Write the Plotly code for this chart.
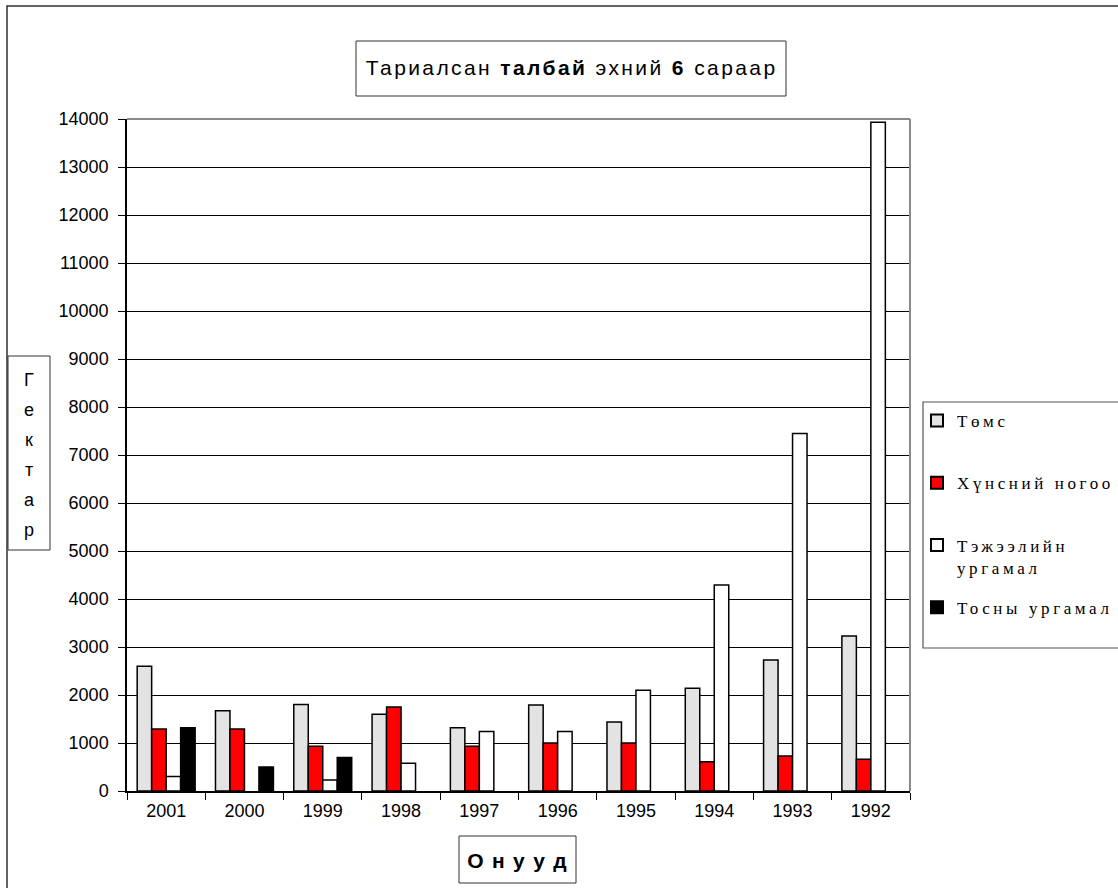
import plotly.graph_objects as go

# ---- data ----
years = ["2001", "2000", "1999", "1998", "1997", "1996", "1995", "1994", "1993", "1992"]
potato = [2600, 1670, 1800, 1600, 1320, 1790, 1440, 2140, 2730, 3230]
vegetables = [1290, 1290, 930, 1750, 930, 1000, 1000, 610, 730, 660]
fodder = [300, None, 230, 580, 1240, 1240, 2100, 4290, 7450, 13930]
oilseed = [1320, 500, 700, None, None, None, None, None, None, None]

series_names = ["Төмс", "Хүнсний ногоо", "Тэжээлийн<br>ургамал", "Тосны ургамал"]
series_colors = ["#E3E3E3", "#FF0000", "#FFFFFF", "#000000"]
title_text = "Тариалсан <b>талбай</b> эхний <b>6</b> сараар"
y_title = "Гектар"
x_title = "<b>О н у у д</b>"

# ---- geometry (pixels) ----
W, H = 1118, 888
L, R, T, B = 127, 910, 119, 791
PW, PH = R - L, B - T


def px(x):
    return (x - L) / PW


def py(y):
    return (B - y) / PH


fig = go.Figure()
for name, vals, col in zip(series_names, [potato, vegetables, fodder, oilseed], series_colors):
    label = name if "<br>" in name else name + "<br>\u00a0"
    fig.add_trace(go.Bar(
        x=years, y=vals, name=label, legendgroup=name,
        marker=dict(color=col, line=dict(color="#000000", width=1.5)),
    ))

sans = "Liberation Sans, Arial, sans-serif"
serif = "Liberation Serif, Times New Roman, serif"

shapes = [
    dict(type="rect", xref="paper", yref="paper", x0=px(7), y0=py(6), x1=px(1130), y1=py(900),
         line=dict(color="#303030", width=1.5), fillcolor="rgba(0,0,0,0)", layer="below"),
    dict(type="line", xref="paper", yref="paper", x0=0, y0=1, x1=1, y1=1,
         line=dict(color="#8a8a8a", width=2)),
    dict(type="line", xref="paper", yref="paper", x0=1, y0=0, x1=1, y1=1,
         line=dict(color="#8a8a8a", width=2)),
    dict(type="rect", xref="paper", yref="paper", x0=px(923), y0=py(402), x1=px(1130), y1=py(648),
         line=dict(color="#555555", width=1.2), fillcolor="rgba(0,0,0,0)"),
    dict(type="rect", xref="paper", yref="paper", x0=px(356), y0=py(41), x1=px(786), y1=py(96),
         line=dict(color="#333333", width=1), fillcolor="rgba(0,0,0,0)"),
    dict(type="rect", xref="paper", yref="paper", x0=px(8), y0=py(356), x1=px(50), y1=py(550),
         line=dict(color="#333333", width=1), fillcolor="rgba(0,0,0,0)"),
    dict(type="rect", xref="paper", yref="paper", x0=px(459), y0=py(836), x1=px(576), y1=py(883),
         line=dict(color="#333333", width=1), fillcolor="rgba(0,0,0,0)"),
]

annotations = [
    dict(text=title_text, xref="paper", yref="paper", x=px(571), y=py(68),
         xanchor="center", yanchor="middle", showarrow=False,
         font=dict(family=sans, size=21, color="#000000")),
    dict(text=x_title, xref="paper", yref="paper", x=px(517.5), y=py(860),
         xanchor="center", yanchor="middle", showarrow=False,
         font=dict(family=sans, size=21, color="#000000")),
]
for i, ch in enumerate(y_title):
    annotations.append(dict(text=ch, xref="paper", yref="paper", x=px(29), y=py(380 + 30 * i),
                            xanchor="center", yanchor="middle", showarrow=False,
                            font=dict(family=sans, size=18, color="#000000")))

fig.update_layout(
    width=W, height=H,
    margin=dict(l=L, r=W - R, t=T, b=H - B, pad=0),
    paper_bgcolor="white", plot_bgcolor="white",
    barmode="group", bargap=0.26, bargroupgap=0,
    showlegend=True,
    legend=dict(x=px(917), y=py(403), xanchor="left", yanchor="top",
                bgcolor="rgba(0,0,0,0)", borderwidth=0,
                font=dict(family=serif, size=17, color="#000000"),
                traceorder="grouped", tracegroupgap=15, valign="top",
                itemsizing="constant"),
    shapes=shapes, annotations=annotations,
    font=dict(family=sans, color="#000000"),
)
fig.update_xaxes(
    type="category", showline=True, linecolor="#000000", linewidth=1.5,
    ticks="outside", tickson="boundaries", ticklen=7, tickcolor="#000000", tickwidth=1,
    ticklabelstandoff=3,
    tickfont=dict(family=sans, size=18, color="#000000"), showgrid=False,
)
fig.update_yaxes(
    range=[0, 14000], dtick=1000, tickformat="d", showline=True, linecolor="#000000", linewidth=1.5,
    ticks="outside", ticklen=7, tickcolor="#000000", tickwidth=1, ticklabelstandoff=6,
    tickfont=dict(family=sans, size=18, color="#000000"),
    showgrid=True, gridcolor="#000000", gridwidth=1, zeroline=False,
)

post = """
document.body.style.margin='0px';
var gd=document.getElementById('{plot_id}');
gd.querySelectorAll('.legend [clip-path]').forEach(function(e){e.removeAttribute('clip-path');});
gd.querySelectorAll('.legendtext').forEach(function(e){e.style.letterSpacing='3.6px';});
var a0=gd.querySelector('g.annotation[data-index="0"] text');
if(a0){a0.style.letterSpacing='2.4px';}
var a1=gd.querySelector('g.annotation[data-index="1"] text');
if(a1){a1.style.letterSpacing='1.3px';}
"""
fig.write_html("out.html", post_script=post, config={"displayModeBar": False})
